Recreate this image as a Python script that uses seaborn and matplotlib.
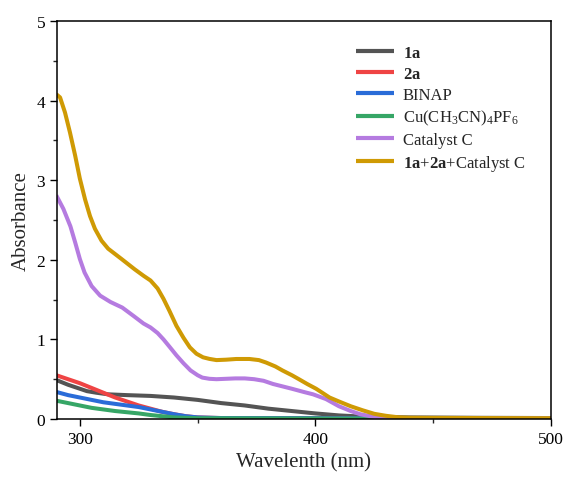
import numpy as np
import pandas as pd
import matplotlib
matplotlib.use("Agg")
import matplotlib.pyplot as plt
from matplotlib.ticker import MultipleLocator
import seaborn as sns

# ---- data ----
wl_1a = [290, 295, 299, 303, 307, 312, 320, 330, 340, 350, 360, 370, 380, 390, 400, 410, 420, 440, 470, 500]
ab_1a = [0.49, 0.43, 0.39, 0.35, 0.33, 0.31, 0.30, 0.29, 0.27, 0.24, 0.20, 0.17, 0.13, 0.10, 0.07, 0.045, 0.03, 0.02, 0.015, 0.012]

wl_2a = [290, 295, 300, 305, 310, 315, 320, 325, 330, 335, 340, 345, 350, 360, 400, 500]
ab_2a = [0.55, 0.50, 0.45, 0.39, 0.33, 0.27, 0.22, 0.17, 0.13, 0.09, 0.06, 0.035, 0.02, 0.012, 0.01, 0.008]

wl_binap = [290, 295, 300, 305, 310, 315, 320, 325, 330, 335, 340, 345, 350, 360, 400, 500]
ab_binap = [0.34, 0.30, 0.27, 0.24, 0.21, 0.19, 0.17, 0.15, 0.12, 0.09, 0.06, 0.035, 0.02, 0.012, 0.01, 0.008]

wl_cu = [290, 295, 300, 305, 310, 315, 320, 325, 330, 335, 340, 350, 400, 500]
ab_cu = [0.23, 0.20, 0.17, 0.14, 0.12, 0.10, 0.085, 0.07, 0.05, 0.035, 0.02, 0.01, 0.006, 0.005]

wl_cat = [290, 293, 296, 298, 300, 302, 305, 308.6, 313, 318, 323, 327, 330, 333, 335.5, 338, 341, 344, 347, 350,
          352, 355, 358, 362, 366, 370, 374, 378, 382, 386, 390, 395, 399, 404.5, 410, 415, 419, 425, 430, 440, 500]
ab_cat = [2.81, 2.64, 2.42, 2.22, 2.01, 1.84, 1.67, 1.55, 1.47, 1.40, 1.29, 1.20, 1.15, 1.08, 1.00, 0.91, 0.80, 0.70, 0.61, 0.55,
          0.52, 0.505, 0.50, 0.505, 0.51, 0.51, 0.50, 0.48, 0.44, 0.41, 0.38, 0.34, 0.31, 0.25, 0.16, 0.10, 0.06, 0.025, 0.015, 0.01, 0.008]

wl_mix = [290, 291.6, 293.7, 295.8, 298, 300, 302.2, 304.3, 306.4, 309.2, 312, 317.7, 323.3, 327, 330, 333, 335.5, 338,
          341, 344, 346.7, 349.5, 352.3, 355, 358, 362, 366.4, 372, 376, 379, 383, 386, 390, 393, 396.5, 400.3, 406,
          410, 415, 420, 425, 430, 435, 440, 450, 470, 500]
ab_mix = [4.08, 4.04, 3.85, 3.60, 3.31, 3.02, 2.76, 2.55, 2.39, 2.24, 2.14, 2.01, 1.88, 1.80, 1.74, 1.64, 1.51, 1.36,
          1.17, 1.02, 0.90, 0.82, 0.775, 0.755, 0.74, 0.745, 0.754, 0.754, 0.74, 0.71, 0.66, 0.61, 0.55, 0.50, 0.44, 0.38, 0.27,
          0.22, 0.16, 0.11, 0.065, 0.04, 0.022, 0.016, 0.014, 0.012, 0.01]

labels = [r"$\mathbf{1a}$", r"$\mathbf{2a}$", "BINAP", r"Cu(CH$_3$CN)$_4$PF$_6$", "Catalyst C",
          r"$\mathbf{1a}$+$\mathbf{2a}$+Catalyst C"]
series = [(wl_1a, ab_1a), (wl_2a, ab_2a), (wl_binap, ab_binap), (wl_cu, ab_cu), (wl_cat, ab_cat), (wl_mix, ab_mix)]
colors = ["#545454", "#ef4444", "#2a6cd8", "#36a666", "#b57be0", "#cf9a04"]

frames = []
for lab, (w, a) in zip(labels, series):
    frames.append(pd.DataFrame({"Wavelength": w, "Absorbance": a, "Sample": lab}))
df = pd.concat(frames, ignore_index=True)

# ---- style ----
sns.set_style("ticks")
plt.rcParams["font.family"] = ["Liberation Serif", "DejaVu Serif"]
plt.rcParams["mathtext.fontset"] = "custom"
plt.rcParams["mathtext.rm"] = "Liberation Serif"
plt.rcParams["mathtext.it"] = "Liberation Serif:italic"
plt.rcParams["mathtext.bf"] = "Liberation Serif:bold"

fig = plt.figure(figsize=(5.63, 4.81), dpi=100)
ax = fig.add_axes([57 / 563, 1 - 420 / 481, (551 - 57) / 563, (420 - 22) / 481])

sns.lineplot(data=df, x="Wavelength", y="Absorbance", hue="Sample", hue_order=labels,
             palette=dict(zip(labels, colors)), linewidth=2.9, ax=ax, sort=True, estimator=None)
for ln in ax.get_lines():
    ln.set_solid_joinstyle("round")
    ln.set_solid_capstyle("butt")

ax.set_xlim(290.3, 500)
ax.set_ylim(0, 5)
ax.xaxis.set_major_locator(MultipleLocator(100))
ax.xaxis.set_minor_locator(MultipleLocator(50))
ax.yaxis.set_major_locator(MultipleLocator(1))
ax.yaxis.set_minor_locator(MultipleLocator(0.5))
ax.tick_params(which="major", direction="out", length=5, width=1, labelsize=12.5, colors="black")
ax.tick_params(which="minor", direction="out", length=3, width=1)
for s in ax.spines.values():
    s.set_linewidth(1.1)
    s.set_color("black")
    s.set_visible(True)

ax.set_xlabel("Wavelenth (nm)", fontsize=15)
ax.set_ylabel("Absorbance", fontsize=15)

leg = ax.legend(loc="upper left", bbox_to_anchor=(356 / 563, 1 - 46 / 481), bbox_transform=fig.transFigure,
                frameon=False, fontsize=12, handlelength=2.3, handletextpad=0.5, labelspacing=0.3,
                borderaxespad=0, borderpad=0)
for line in leg.get_lines():
    line.set_linewidth(3.0)

fig.savefig("out.png", dpi=100)
